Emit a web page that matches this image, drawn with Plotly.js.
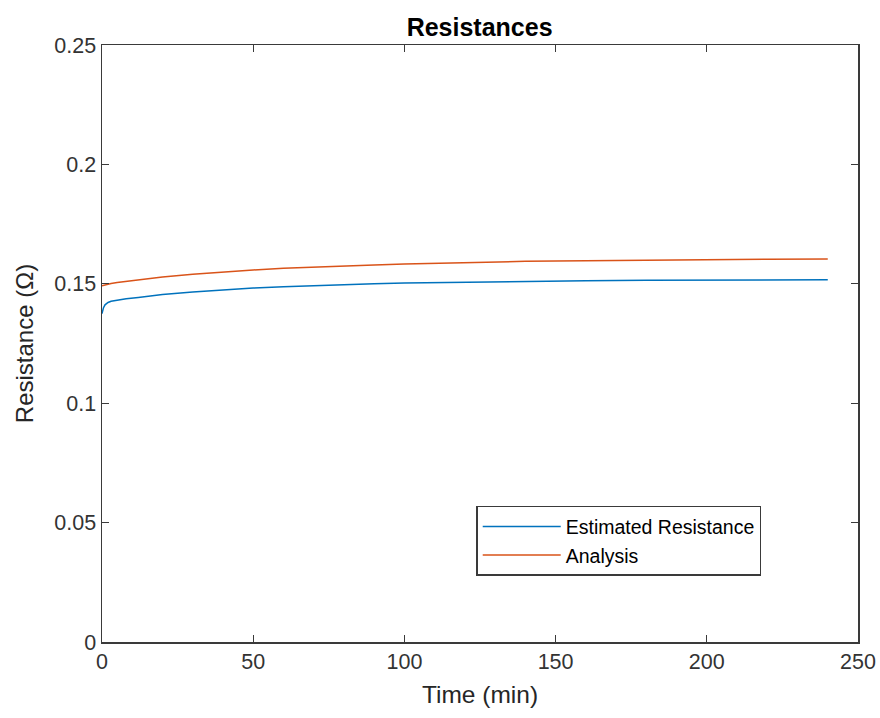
<!DOCTYPE html>
<html>
<head>
<meta charset="utf-8">
<script src="https://cdn.plot.ly/plotly-3.0.1.min.js"></script>
<style>html,body{margin:0;padding:0;background:#fff;} #chart{width:880px;height:718px;}</style>
</head>
<body>
<div id="chart"></div>
<script>
const timeMin = [0, 0.5, 1, 2, 3, 5, 8, 12, 20, 30, 40, 50, 60, 75, 90, 100, 120, 140, 160, 180, 200, 220, 240];
const estimatedResistance = [0.1375, 0.1400, 0.1412, 0.1422, 0.1427, 0.1432, 0.1437, 0.1443, 0.1455, 0.1466, 0.1475, 0.1482, 0.1488, 0.1495, 0.1500, 0.1503, 0.1507, 0.1510, 0.1513, 0.1515, 0.1516, 0.1517, 0.1517];
const analysisResistance = [0.1492, 0.1494, 0.1496, 0.1499, 0.1501, 0.1505, 0.1510, 0.1517, 0.1528, 0.1540, 0.1550, 0.1558, 0.1565, 0.1573, 0.1579, 0.1583, 0.1589, 0.1594, 0.1597, 0.1600, 0.1602, 0.1603, 0.1604];
const xTicks = [0, 50, 100, 150, 200, 250];
const yTicks = [0, 0.05, 0.1, 0.15, 0.2, 0.25];
const yTickLabels = ['0', '0.05', '0.1', '0.15', '0.2', '0.25'];

const font = 'Liberation Sans, Arial, Helvetica, sans-serif';
const traces = [
  {x: timeMin, y: estimatedResistance, type: 'scatter', mode: 'lines', name: 'Estimated Resistance',
   line: {color: '#0072BD', width: 1.5}},
  {x: timeMin, y: analysisResistance, type: 'scatter', mode: 'lines', name: 'Analysis',
   line: {color: '#D95319', width: 1.5}}
];
const axisCommon = {
  showline: true, linecolor: '#3a3a3a', linewidth: 1.5, mirror: 'ticks',
  ticks: 'inside', ticklen: 7, tickcolor: '#3a3a3a', tickwidth: 1.2, showgrid: false, zeroline: false,
  tickfont: {family: font, size: 21.5, color: '#333333'}
};
const layout = {
  width: 880, height: 718,
  margin: {l: 102, r: 22, t: 45, b: 76},
  paper_bgcolor: '#ffffff', plot_bgcolor: '#ffffff',
  title: {text: '<b>Resistances</b>', font: {family: font, size: 25, color: '#000'}, x: 0.545, xanchor: 'center', y: 0.9625, yanchor: 'middle'},
  xaxis: Object.assign({}, axisCommon, {range: [0, 250], tickvals: xTicks,
    title: {text: 'Time (min)', font: {family: font, size: 24.5, color: '#262626'}, standoff: 12}}),
  yaxis: Object.assign({}, axisCommon, {range: [0, 0.25], tickvals: yTicks, ticktext: yTickLabels,
    title: {text: 'Resistance (Ω)', font: {family: font, size: 24, color: '#262626'}, standoff: 14}}),
  showlegend: true,
  legend: {x: 0.495, y: 0.228, xanchor: 'left', yanchor: 'top', bgcolor: '#ffffff',
    bordercolor: '#3a3a3a', borderwidth: 1.5, font: {family: font, size: 19.5, color: '#000'},
    tracegroupgap: 0, itemwidth: 78}
};
Plotly.newPlot('chart', traces, layout, {displayModeBar: false, staticPlot: true});
</script>
</body>
</html>
